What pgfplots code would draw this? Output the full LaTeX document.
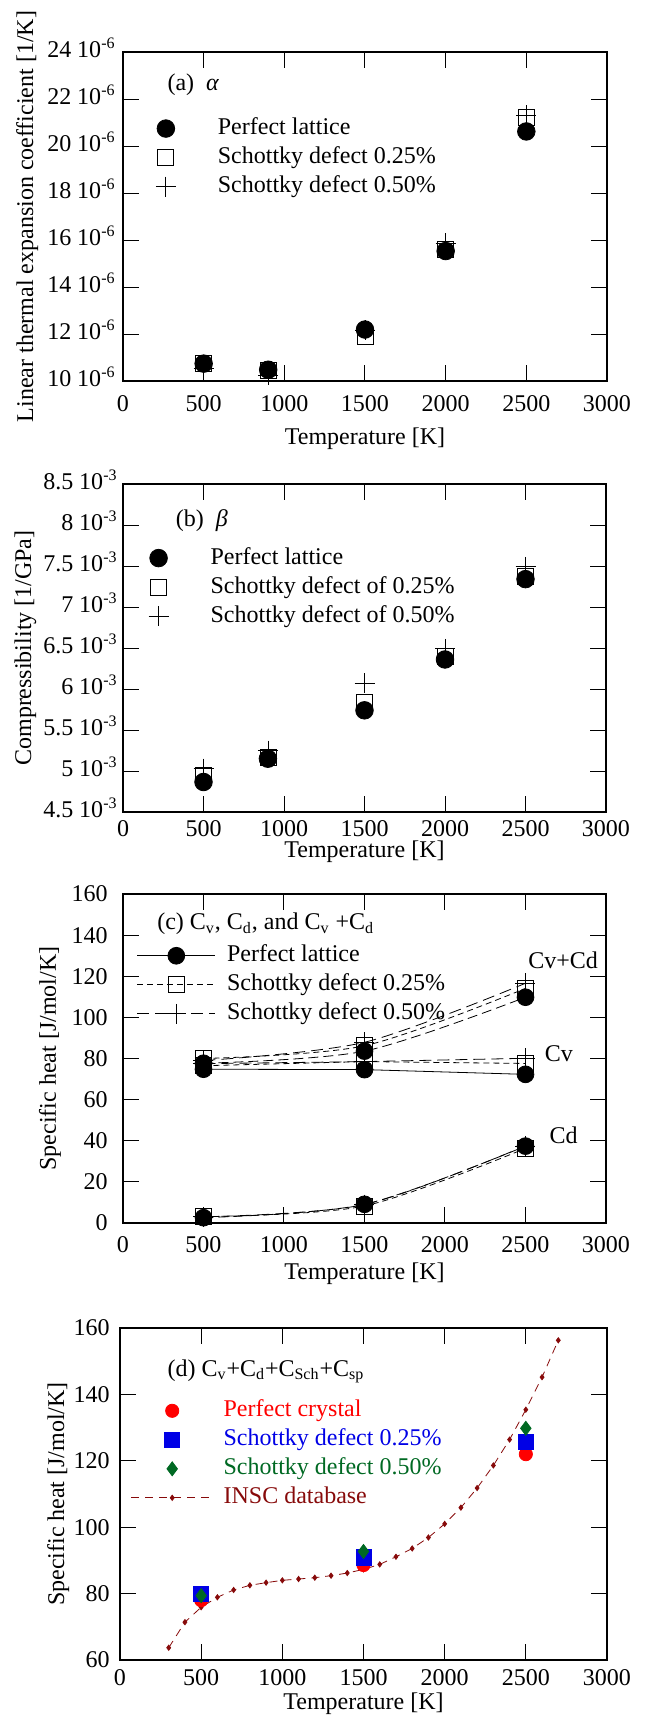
\documentclass[12pt,border=0pt]{standalone}
\usepackage{fontspec}
\setmainfont{Liberation Serif}
\usepackage{pgfplots}
\pgfplotsset{compat=1.18}

\definecolor{pred}{RGB}{255,0,0}
\definecolor{pblue}{RGB}{0,0,230}
\definecolor{pgreen}{RGB}{0,105,35}
\definecolor{insc}{RGB}{135,10,10}

\pgfplotsset{
  panel/.style={
    scale only axis,
    xmin=0, xmax=3000, xtick={0,500,...,3000},
    tick align=inside, major tick length=8pt,
    axis line style={line width=0.6pt},
    every tick/.style={black, line width=0.5pt},
    /pgf/number format/assume math mode=true,
    /pgf/number format/1000 sep={},
    xlabel={Temperature [K]},
    legend cell align=left,
    legend style={draw=none, fill=none, inner sep=0pt, anchor=north west,
      row sep=2.5pt, nodes={inner sep=0pt, text height=9pt, text depth=3pt}},
  },
  markimg/.style={legend image code/.code={\path[draw=none,fill=none] (-6pt,0pt) -- (6pt,0pt);
      \draw[##1] plot coordinates {(0pt,0pt)};}},
  wideimg/.style={legend image code/.code={\path[draw=none,fill=none] (-20.5pt,0pt) -- (20.5pt,0pt);
      \draw[##1] plot coordinates {(0pt,0pt)};}},
  widelineimg/.style={legend image code/.code={
      \draw[mark repeat=2,mark phase=2,##1] plot coordinates {(-20.5pt,0pt) (0pt,0pt) (20.5pt,0pt)};}},
  lineimg/.style={legend image code/.code={
      \draw[mark repeat=2,mark phase=2,##1] plot coordinates {(0pt,0pt) (19.5pt,0pt) (39pt,0pt)};}},
  pcirc/.style={only marks, mark=*, mark size=4.4pt, black},
  psq/.style={only marks, mark=square, mark size=4pt, black, thin},
  pplus/.style={only marks, mark=+, mark size=5pt, black, thin},
}

\begin{document}
\begin{tikzpicture}

% ---------------- (a) alpha
\begin{axis}[panel, at={(61.5pt,-26pt)}, anchor=north west,
  width=242pt, height=164.5pt,
  ymin=10, ymax=24, ytick={10,12,...,24},
  yticklabels={10 10\textsuperscript{-6},12 10\textsuperscript{-6},14 10\textsuperscript{-6},16 10\textsuperscript{-6},18 10\textsuperscript{-6},20 10\textsuperscript{-6},22 10\textsuperscript{-6},24 10\textsuperscript{-6}},
  ylabel={Linear thermal expansion coefficient [1/K]},
  xlabel style={at={(axis description cs:0.5,-0.176)}, anchor=center},
  ylabel style={at={(axis description cs:-0.198,0.5)}, anchor=center},
  xticklabel style={anchor=center, yshift=-11.5pt},
  yticklabel style={xshift=0.5pt, yshift=2pt},
  legend style={at={(axis description cs:0.063,0.805)}, column sep=20pt},
]
\addlegendimage{pcirc, markimg}
\addlegendentry{Perfect lattice}
\addlegendimage{psq, markimg}
\addlegendentry{Schottky defect 0.25\%}
\addlegendimage{pplus, markimg}
\addlegendentry{Schottky defect 0.50\%}
\addplot[psq, forget plot] coordinates {(500,10.74) (900,10.45) (1500,11.9) (2000,15.6) (2500,21.23)};
\addplot[pplus, forget plot] coordinates {(500,10.55) (900,10.25) (1500,12.15) (2000,15.86) (2500,21.3)};
\addplot[pcirc, forget plot] coordinates {(500,10.74) (900,10.48) (1500,12.19) (2000,15.53) (2500,20.62)};
\node[anchor=west] at (axis cs:224,22.6) {(a)\hspace{6pt}\textit{α}};
\end{axis}

% ---------------- (b) beta
\begin{axis}[panel, at={(61.5pt,-242pt)}, anchor=north west,
  width=241.5pt, height=164pt,
  ymin=4.5, ymax=8.5, ytick={4.5,5,...,8.5},
  yticklabels={4.5 10\textsuperscript{-3},5 10\textsuperscript{-3},5.5 10\textsuperscript{-3},6 10\textsuperscript{-3},6.5 10\textsuperscript{-3},7 10\textsuperscript{-3},7.5 10\textsuperscript{-3},8 10\textsuperscript{-3},8.5 10\textsuperscript{-3}},
  ylabel={Compressibility [1/GPa]},
  xlabel style={at={(axis description cs:0.5,-0.122)}, anchor=center},
  ylabel style={at={(axis description cs:-0.202,0.5)}, anchor=center},
  xticklabel style={anchor=center, yshift=-8.3pt},
  yticklabel style={xshift=1.5pt, yshift=2pt},
  legend style={at={(axis description cs:0.048,0.812)}, column sep=20pt},
]
\addlegendimage{pcirc, markimg}
\addlegendentry{Perfect lattice}
\addlegendimage{psq, markimg}
\addlegendentry{Schottky defect of 0.25\%}
\addlegendimage{pplus, markimg}
\addlegendentry{Schottky defect of 0.50\%}
\addplot[psq, forget plot] coordinates {(500,4.95) (900,5.17) (1500,5.84) (2000,6.40) (2500,7.37)};
\addplot[pplus, forget plot] coordinates {(500,5.03) (900,5.25) (1500,6.07) (2000,6.49) (2500,7.49)};
\addplot[pcirc, forget plot] coordinates {(500,4.866) (900,5.15) (1500,5.74) (2000,6.36) (2500,7.34)};
\node[anchor=west] at (axis cs:276,8.05) {(b)\hspace{6pt}\textit{β}};
\end{axis}

% ---------------- (c) specific heat components
\begin{axis}[panel, at={(61.5pt,-447pt)}, anchor=north west,
  width=241.5pt, height=164.5pt,
  ymin=0, ymax=160, ytick={0,20,...,160},
  ylabel={Specific heat [J/mol/K]},
  xlabel style={at={(axis description cs:0.5,-0.155)}, anchor=center},
  ylabel style={at={(axis description cs:-0.151,0.5)}, anchor=center},
  xticklabel style={anchor=center, yshift=-11pt},
  yticklabel style={xshift=-3.5pt},
  legend style={at={(axis description cs:0.028,0.85)}, column sep=5.7pt},
]
\addlegendimage{black, thin, mark=*, mark size=4.2pt, lineimg}
\addlegendentry{Perfect lattice}
\addlegendimage{black, thin, dash pattern=on 3pt off 2pt, mark=square, mark size=4pt, mark options={solid}, lineimg}
\addlegendentry{Schottky defect 0.25\%}
\addlegendimage{black, thin, dash pattern=on 6pt off 3pt, mark=+, mark size=5pt, mark options={solid}, lineimg}
\addlegendentry{Schottky defect 0.50\%}
% Schottky 0.25%
\addplot[black, thin, dash pattern=on 3pt off 2pt, mark=square, mark size=4pt, mark options={solid}, forget plot] coordinates {(500,76.5) (1500,78.5) (2500,77.6)};
\addplot[black, thin, smooth, dash pattern=on 3pt off 2pt, mark=square, mark size=4pt, mark options={solid}, forget plot] coordinates {(500,80) (1500,86.2) (2500,114.1)};
\addplot[black, thin, smooth, dash pattern=on 3pt off 2pt, mark=square, mark size=4pt, mark options={solid}, forget plot] coordinates {(500,3.1) (1500,8.3) (2500,36.3)};
% Schottky 0.50%
\addplot[black, thin, dash pattern=on 6pt off 3pt, mark=+, mark size=5pt, mark options={solid}, forget plot] coordinates {(500,77.5) (1500,78.5) (2500,80.1)};
\addplot[black, thin, smooth, dash pattern=on 6pt off 3pt, mark=+, mark size=5pt, mark options={solid}, forget plot] coordinates {(500,79) (1500,87.9) (2500,116.6)};
\addplot[black, thin, smooth, dash pattern=on 6pt off 3pt, mark=+, mark size=5pt, mark options={solid}, forget plot] coordinates {(500,3) (1500,9) (2500,37.5)};
% Perfect lattice
\addplot[black, thin, mark=*, mark size=4.2pt, forget plot] coordinates {(500,74.8) (1500,74.6) (2500,72.3)};
\addplot[black, thin, smooth, dash pattern=on 5pt off 2.5pt, mark=*, mark size=4.2pt, mark options={solid}, forget plot] coordinates {(500,77.7) (1500,83.6) (2500,109.8)};
\addplot[black, thin, smooth, dash pattern=on 5pt off 2.5pt, mark=*, mark size=4.2pt, mark options={solid}, forget plot] coordinates {(500,2.6) (1500,9.1) (2500,37.4)};
\node[anchor=west] at (axis cs:161,145.4) {(c) C\textsubscript{v}, C\textsubscript{d}, and C\textsubscript{v} +C\textsubscript{d}};
\node at (axis cs:2734,128) {Cv+Cd};
\node at (axis cs:2708,82.3) {Cv};
\node at (axis cs:2737,42.6) {Cd};
\end{axis}

% ---------------- (d) total specific heat
\begin{axis}[panel, at={(60pt,-664pt)}, anchor=north west,
  width=243.5pt, height=166pt,
  ymin=60, ymax=160, ytick={60,80,...,160},
  ylabel={Specific heat [J/mol/K]},
  xlabel style={at={(axis description cs:0.5,-0.133)}, anchor=center},
  ylabel style={at={(axis description cs:-0.127,0.5)}, anchor=center},
  xticklabel style={anchor=center, yshift=-9pt},
  yticklabel style={xshift=-1pt},
  legend style={at={(axis description cs:0.0214,0.788)}, column sep=5pt},
]
\addlegendimage{only marks, mark=*, mark size=3.3pt, pred, wideimg}
\addlegendentry{\textcolor{pred}{Perfect crystal}}
\addlegendimage{only marks, mark=square*, mark size=3.8pt, pblue, wideimg}
\addlegendentry{\textcolor{pblue}{Schottky defect 0.25\%}}
\addlegendimage{only marks, mark=diamond*, mark size=3.5pt, pgreen, wideimg}
\addlegendentry{\textcolor{pgreen}{Schottky defect 0.50\%}}
\addlegendimage{insc, thin, dash pattern=on 4pt off 3pt, mark=diamond*, mark size=1.3pt, mark options={solid}, widelineimg}
\addlegendentry{\textcolor{insc}{INSC database}}
\addplot[insc, thin, dash pattern=on 4pt off 3pt, mark=diamond*, mark size=1.3pt, mark options={solid}, forget plot] coordinates {
  (300,63.7) (400,71.4) (500,75.9) (600,78.9) (700,81.1) (800,82.5) (900,83.3)
  (1000,84.0) (1100,84.4) (1200,84.8) (1300,85.4) (1400,86.2) (1500,87.3)
  (1600,88.8) (1700,91.1) (1800,93.6) (1900,96.9) (2000,101.0) (2100,105.9)
  (2200,111.8) (2300,118.6) (2400,126.4) (2500,135.4) (2600,145.2) (2700,156.3)};
\addplot[only marks, mark=*, mark size=3.3pt, pred, forget plot] coordinates {(500,78) (1500,88.6) (2500,122)};
\addplot[only marks, mark=square*, mark size=3.8pt, pblue, forget plot] coordinates {(500,79.8) (1500,90.9) (2500,125.8)};
\addplot[only marks, mark=diamond*, mark size=3.5pt, pgreen, forget plot] coordinates {(500,79.4) (1500,92.7) (2500,129.8)};
\node[anchor=west] at (axis cs:241,147) {(d) C\textsubscript{v}+C\textsubscript{d}+C\textsubscript{Sch}+C\textsubscript{sp}};
\end{axis}

\pgfresetboundingbox
\useasboundingbox (0pt,0pt) rectangle (323pt,-857.5pt);
\end{tikzpicture}
\end{document}
